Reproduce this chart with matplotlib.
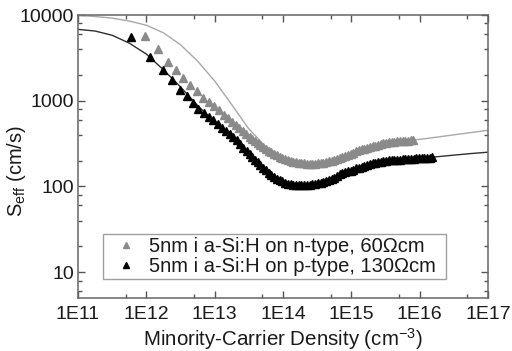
import numpy as np
import matplotlib
matplotlib.use("Agg")
import matplotlib.pyplot as plt
from matplotlib.ticker import LogLocator, FixedLocator, NullFormatter, FixedFormatter

plt.rcParams['font.family'] = ['Liberation Sans', 'DejaVu Sans']
plt.rcParams['mathtext.fontset'] = 'custom'
plt.rcParams['mathtext.rm'] = 'Liberation Sans'
plt.rcParams['mathtext.it'] = 'Liberation Sans:italic'

# Measured S_eff vs minority-carrier density (log10 of density, S in cm/s)
n_type_logN = [11.98, 12.17, 12.31, 12.44, 12.54, 12.64, 12.74, 12.83, 12.91, 12.99,
               13.06, 13.13, 13.19, 13.25, 13.31, 13.36, 13.41, 13.46, 13.51, 13.55,
               13.59, 13.63, 13.67, 13.71, 13.75, 13.79, 13.83, 13.87, 13.91, 13.95,
               13.99, 14.03, 14.07, 14.11, 14.15, 14.19, 14.23, 14.27, 14.31, 14.35,
               14.39, 14.43, 14.47, 14.51, 14.55, 14.59, 14.63, 14.67, 14.71, 14.75,
               14.79, 14.83, 14.87, 14.91, 14.95, 14.99, 15.03, 15.07, 15.11, 15.15,
               15.19, 15.23, 15.27, 15.31, 15.35, 15.39, 15.43, 15.47, 15.51, 15.55,
               15.59, 15.63, 15.67, 15.71, 15.75, 15.79, 15.83, 15.87, 15.90]
n_type_S = [5700, 4000, 2800, 2300, 1840, 1540, 1290, 1090, 960, 860,
            770, 690, 625, 570, 520, 480, 445, 410, 382, 360,
            340, 320, 303, 288, 274, 262, 251, 240, 230, 221,
            214, 208, 203, 199, 195, 192, 189, 187, 186, 185,
            184, 184, 185, 186, 188, 190, 193, 196, 200, 205,
            210, 216, 222, 228, 233, 238, 246, 256, 265, 272,
            277, 282, 287, 293, 300, 308, 315, 320, 324, 328,
            331, 333, 335, 337, 339, 341, 342, 344, 345]

p_type_logN = [11.77, 12.05, 12.24, 12.37, 12.49, 12.59, 12.68, 12.76, 12.84, 12.91,
               12.98, 13.05, 13.11, 13.17, 13.22, 13.27, 13.32, 13.37, 13.42, 13.47,
               13.51, 13.55, 13.59, 13.63, 13.67, 13.71, 13.75, 13.79, 13.83, 13.87,
               13.91, 13.95, 13.99, 14.03, 14.07, 14.11, 14.15, 14.19, 14.23, 14.27,
               14.31, 14.35, 14.39, 14.43, 14.47, 14.51, 14.55, 14.59, 14.63, 14.67,
               14.71, 14.75, 14.79, 14.83, 14.87, 14.91, 14.95, 14.99, 15.03, 15.07,
               15.11, 15.15, 15.19, 15.23, 15.27, 15.31, 15.35, 15.39, 15.43, 15.47,
               15.51, 15.55, 15.59, 15.63, 15.67, 15.71, 15.75, 15.79, 15.83, 15.87,
               15.91, 15.95, 15.99, 16.03, 16.07, 16.11, 16.15, 16.18]
p_type_S = [5600, 3270, 2290, 1750, 1340, 1140, 950, 800, 720, 640,
            590, 530, 480, 440, 405, 375, 345, 310, 282, 257,
            238, 220, 205, 192, 178, 165, 154, 143, 135, 128,
            123, 119, 115, 111, 108, 106, 104, 103, 103, 103,
            103, 104, 105, 106, 107, 109, 111, 113, 116, 119,
            122, 127, 132, 138, 142, 146, 150, 153, 157, 162,
            166, 170, 175, 180, 184, 187, 190, 193, 195, 197,
            199, 201, 203, 204, 205, 206, 207, 208, 209, 210,
            211, 212, 213, 214, 215, 216, 217, 218]

# Model curves
fit_logN = [11.0, 11.25, 11.5, 11.75, 12.0, 12.25, 12.5, 12.75, 13.0, 13.25,
            13.5, 13.75, 14.0, 14.25, 14.5, 14.75, 15.0, 15.25, 15.5, 15.75,
            16.0, 16.25, 16.5, 16.75, 17.0]
fit_n_S = [9900, 9600, 9200, 8500, 7600, 6200, 4500, 2900, 1700, 900,
           470, 290, 215, 188, 184, 200, 238, 285, 322, 340,
           354, 376, 400, 425, 452]
fit_p_S = [6800, 6500, 5800, 4700, 3500, 2300, 1450, 880, 560, 355,
           225, 150, 115, 102, 106, 128, 152, 182, 198, 206,
           214, 222, 232, 242, 251]

legend_labels = ["5nm i a-Si:H on n-type, 60\u03A9cm",
                 "5nm i a-Si:H on p-type, 130\u03A9cm"]
x_tick_labels = ["1E11", "1E12", "1E13", "1E14", "1E15", "1E16", "1E17"]
y_tick_labels = ["10", "100", "1000", "10000"]

fig = plt.figure(figsize=(5.12, 3.51), dpi=100)
ax = fig.add_axes([78 / 512, 1 - 298 / 351, 410 / 512, 283 / 351])

ax.plot(10 ** np.array(fit_logN), fit_n_S, color="#a8a8a8", lw=1.0, zorder=2)
ax.plot(10 ** np.array(fit_logN), fit_p_S, color="#303030", lw=1.0, zorder=2)
ax.plot(10 ** np.array(n_type_logN), n_type_S, ls="none", marker="^", ms=5.5,
        color="#8a8a8a", mec="#8a8a8a", label=legend_labels[0], zorder=3)
ax.plot(10 ** np.array(p_type_logN), p_type_S, ls="none", marker="^", ms=5.5,
        color="#000000", label=legend_labels[1], zorder=3)

ax.set_xscale("log")
ax.set_yscale("log")
ax.set_xlim(1e11, 1e17)
ax.set_ylim(5, 10000)

xmaj = [10.0 ** k for k in range(11, 18)]
ax.xaxis.set_major_locator(FixedLocator(xmaj))
ax.xaxis.set_major_formatter(FixedFormatter(x_tick_labels))
ax.xaxis.set_minor_locator(FixedLocator([5 * 10.0 ** k for k in range(11, 17)]))
ax.xaxis.set_minor_formatter(NullFormatter())

ymaj = [10, 100, 1000, 10000]
ax.yaxis.set_major_locator(FixedLocator(ymaj))
ax.yaxis.set_major_formatter(FixedFormatter(y_tick_labels))
ax.yaxis.set_minor_locator(LogLocator(base=10, subs=(2, 4, 6, 8)))
ax.yaxis.set_minor_formatter(NullFormatter())

ax.tick_params(which="both", direction="in", top=True, right=True,
               color="#555555", labelsize=14, labelcolor="#1a1a1a")
ax.tick_params(which="major", length=5, width=1)
ax.tick_params(which="minor", length=3, width=1)
ax.tick_params(axis="x", pad=6)
ax.tick_params(axis="y", pad=3)
for s in ax.spines.values():
    s.set_color("#666666")
    s.set_linewidth(1.1)

ax.set_xlabel("Minority-Carrier Density (cm$^{-3}$)", fontsize=14.8,
              color="#1a1a1a", labelpad=2)
ax.set_ylabel("S$_{\\rm eff}$ (cm/s)", fontsize=14.5, color="#1a1a1a")
ax.yaxis.set_label_coords(-0.122, 0.45)

leg = ax.legend(loc="lower left", bbox_to_anchor=(0.061, 0.067, 0.837, 0.17),
                mode="expand", fontsize=14.5, frameon=True, fancybox=False,
                handlelength=2.0, handletextpad=0.15, borderpad=0.15,
                labelspacing=0.05, markerscale=0.85, borderaxespad=0)
leg.get_frame().set_edgecolor("#888888")
leg.get_frame().set_linewidth(1.0)
for t in leg.get_texts():
    t.set_color("#1a1a1a")

fig.savefig("out.png", dpi=100)
